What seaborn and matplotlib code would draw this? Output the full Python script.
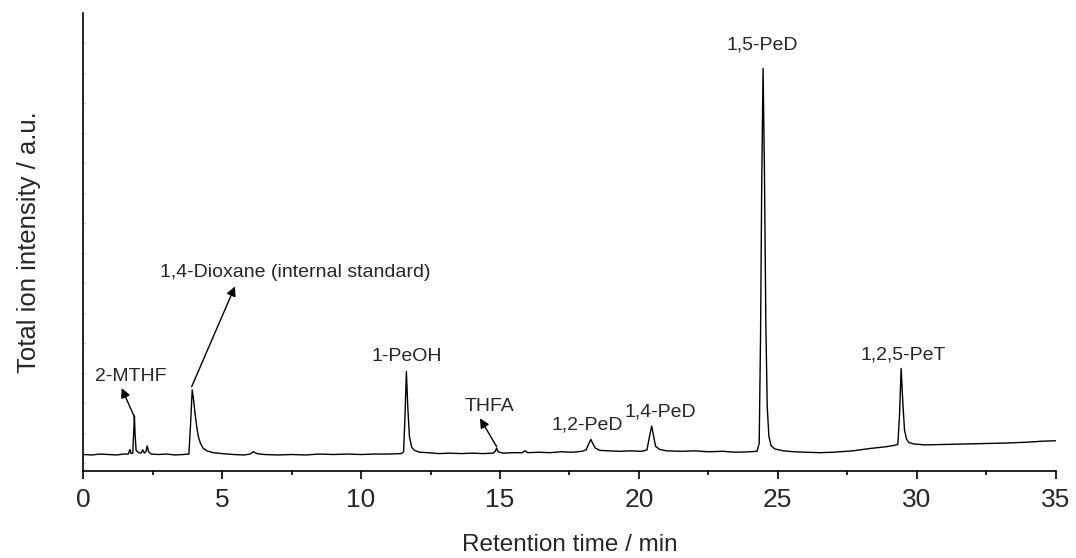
import numpy as np
import pandas as pd
import matplotlib
matplotlib.use("Agg")
import matplotlib.pyplot as plt
import seaborn as sns

# Chromatogram trace (retention time in min, intensity in a.u.)
time = [0.0, 0.3, 0.6, 0.9, 1.2, 1.45, 1.62, 1.68, 1.72, 1.78, 1.82, 1.84, 1.86, 1.90,
        1.95, 2.0, 2.08, 2.14, 2.2, 2.26, 2.30, 2.35, 2.45, 2.7, 3.0, 3.3, 3.6, 3.80,
        3.86, 3.92, 3.97, 4.02, 4.08, 4.14, 4.22, 4.31, 4.45, 4.67, 5.0, 5.4, 5.8, 6.0,
        6.12, 6.25, 6.5, 7.0, 7.5, 8.0, 8.5, 9.0, 9.5, 10.0, 10.5, 11.0, 11.45, 11.53,
        11.58, 11.63, 11.68, 11.74, 11.82, 11.92, 12.1, 12.4, 12.8, 13.2, 13.6, 14.0,
        14.4, 14.75, 14.83, 14.88, 14.93, 15.1, 15.5, 15.8, 15.9, 16.0, 16.4, 16.8, 17.2,
        17.6, 17.95, 18.10, 18.20, 18.27, 18.34, 18.43, 18.6, 18.9, 19.3, 19.7, 20.1,
        20.29, 20.38, 20.46, 20.53, 20.60, 20.75, 21.0, 21.5, 22.0, 22.5, 23.0, 23.5,
        24.0, 24.25, 24.33, 24.38, 24.42, 24.47, 24.52, 24.57, 24.62, 24.68, 24.76, 24.9,
        25.2, 25.6, 26.0, 26.5, 27.0, 27.7, 28.3, 28.9, 29.2, 29.32, 29.38, 29.44, 29.50,
        29.56, 29.63, 29.72, 29.9, 30.3, 31.0, 31.8, 32.5, 33.2, 34.0, 34.5, 35.0]
intensity = [3.6, 3.5, 3.7, 3.6, 3.5, 3.7, 3.7, 4.7, 3.8, 3.9, 9.0, 12.0, 8.5, 4.5,
             4.2, 4.0, 3.9, 4.6, 3.9, 4.3, 5.5, 4.2, 3.7, 3.6, 3.7, 3.5, 3.6, 3.7,
             10.0, 17.7, 15.5, 12.7, 9.8, 7.5, 6.0, 5.0, 4.4, 4.0, 3.8, 3.6, 3.5, 3.7,
             4.2, 3.8, 3.6, 3.5, 3.6, 3.5, 3.7, 3.6, 3.7, 3.6, 3.7, 3.7, 3.8, 4.2,
             12.0, 21.7, 14.0, 7.5, 5.2, 4.5, 4.1, 4.0, 3.8, 3.9, 3.8, 3.9,
             3.8, 3.9, 4.3, 5.0, 4.2, 3.9, 4.0, 4.0, 4.4, 4.0, 4.1, 4.0, 4.2,
             4.1, 4.3, 4.6, 6.0, 6.9, 6.0, 5.0, 4.5, 4.4, 4.3, 4.4, 4.3,
             4.6, 7.5, 9.8, 7.6, 5.4, 4.7, 4.4, 4.3, 4.4, 4.2, 4.3, 4.1,
             4.2, 4.3, 6.0, 30.0, 62.0, 87.9, 65.0, 32.0, 14.0, 7.5, 5.5, 4.8,
             4.4, 4.2, 4.1, 4.0, 4.1, 4.4, 4.9, 5.3, 5.6, 5.8, 12.0, 22.4, 15.0,
             9.0, 7.0, 6.2, 5.9, 5.7, 5.8, 5.9, 6.0, 6.1, 6.3, 6.5, 6.6]

# Peak labels: (text, x, y)
labels = ["2-MTHF", "1,4-Dioxane (internal standard)", "1-PeOH", "THFA",
          "1,2-PeD", "1,4-PeD", "1,5-PeD", "1,2,5-PeT"]
label_x = [1.72, 7.62, 11.65, 14.61, 18.14, 20.77, 24.44, 29.52]
label_y = [20.7, 43.4, 24.9, 14.0, 10.0, 12.9, 93.0, 25.3]

# Arrows: (tail at peak) -> (head toward label)
arrow_tail_x = [1.84, 3.90, 14.88]
arrow_tail_y = [11.8, 18.4, 5.3]
arrow_head_x = [1.38, 5.46, 14.28]
arrow_head_y = [18.1, 40.3, 11.5]

xticks = [0, 5, 10, 15, 20, 25, 30, 35]

sns.set_style("ticks")
plt.rcParams["font.family"] = ["Liberation Sans", "DejaVu Sans"]

fig = plt.figure(figsize=(10.76, 5.58), dpi=100)
ax = fig.add_axes([83.3 / 1076, 1 - 471 / 558, (1055.6 - 83.3) / 1076, (471 - 13) / 558])

df = pd.DataFrame({"time": time, "intensity": intensity})
sns.lineplot(data=df, x="time", y="intensity", ax=ax, color="black",
             linewidth=1.0, estimator=None, sort=False)

ax.set_xlim(0, 35)
ax.set_ylim(0, 100)
ax.set_xticks(xticks)
ax.set_xticks(np.arange(2.5, 35, 5), minor=True)
ax.set_xticklabels([str(t) for t in xticks], fontsize=19)
ax.set_yticks(np.arange(93.45, 0, -6.55))
ax.set_yticklabels([])

ax.tick_params(axis="x", which="major", direction="out", length=6, width=1.2, color="black", pad=6)
ax.tick_params(axis="x", which="minor", direction="out", length=3, width=1.2, color="black")
ax.tick_params(axis="y", which="major", direction="in", length=2.5, width=0.8, color="#d0d0d0")

for side in ["top", "right"]:
    ax.spines[side].set_visible(False)
for side in ["left", "bottom"]:
    ax.spines[side].set_linewidth(1.2)
    ax.spines[side].set_color("black")

ax.set_xlabel("Retention time / min", fontsize=17.5, labelpad=16)
ax.set_ylabel("Total ion intensity / a.u.", fontsize=18.5, labelpad=27)

for txt, x, y in zip(labels, label_x, label_y):
    ax.text(x, y, txt, ha="center", va="center", fontsize=14)

for tx, ty, hx, hy in zip(arrow_tail_x, arrow_tail_y, arrow_head_x, arrow_head_y):
    ax.annotate("", xy=(hx, hy), xytext=(tx, ty),
                arrowprops=dict(arrowstyle="-|>", color="black", lw=1.0,
                                mutation_scale=14, shrinkA=0, shrinkB=0))

fig.savefig("out.png", dpi=100)
